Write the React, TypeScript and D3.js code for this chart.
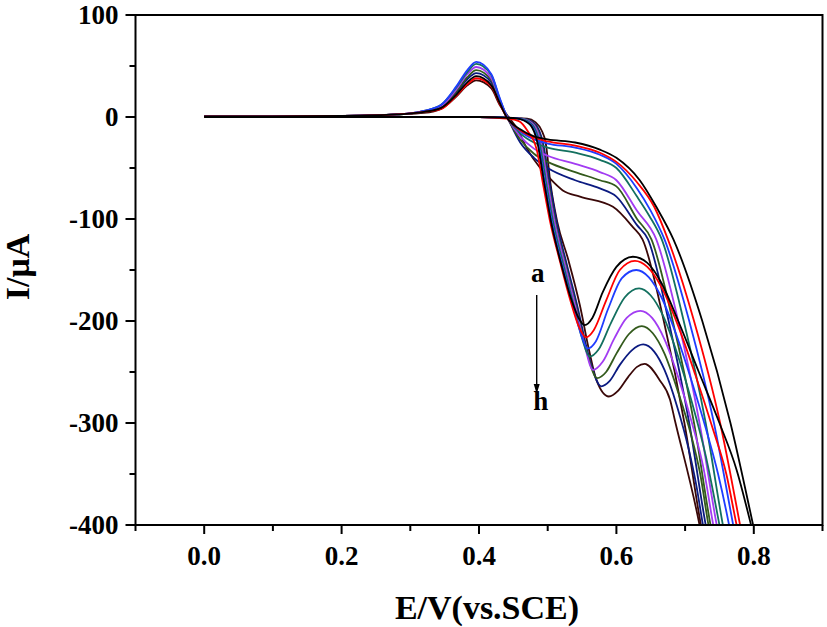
import { useEffect, useRef } from "react";
import * as d3 from "d3";

// curve labels a..h and their colours
const curveLabels = ["a", "b", "c", "d", "e", "f", "g", "h"];
const curveColors = ["#000000", "#ff0000", "#1f3dff", "#13705f", "#a23cf2", "#335a1c", "#0b1a80", "#3a0808"];

// forward scan (E / V, I / uA), potential increasing
const fwdA = [[0, 0], [0.2, 0], [0.4, 0], [0.45, -1], [0.46, -2], [0.475, -8], [0.485, -25], [0.495, -65], [0.505, -103], [0.52, -145], [0.535, -180], [0.545, -197], [0.554, -204], [0.565, -197], [0.58, -172], [0.6, -147], [0.624, -137], [0.645, -143], [0.665, -162], [0.69, -200], [0.72, -250], [0.75, -300], [0.775, -346], [0.796, -400], [0.805, -425]];
const fwdB = [[0, 0], [0.2, 0], [0.4, 0], [0.44, -1.5], [0.458, -4], [0.471, -14], [0.484, -32], [0.493, -65], [0.503, -101], [0.518, -142], [0.533, -180], [0.545, -205], [0.556, -216], [0.567, -209], [0.585, -180], [0.605, -150], [0.627, -141], [0.645, -147], [0.665, -166], [0.69, -205], [0.715, -253], [0.74, -305], [0.76, -350], [0.775, -400], [0.783, -425]];
const fwdC = [[0, 0], [0.2, 0], [0.4, 0], [0.45, -1], [0.46, -2], [0.476, -8], [0.486, -25], [0.496, -65], [0.506, -103], [0.521, -145], [0.536, -183], [0.548, -212], [0.558, -227], [0.57, -220], [0.588, -188], [0.608, -158], [0.629, -150], [0.647, -157], [0.665, -176], [0.688, -215], [0.71, -260], [0.73, -305], [0.748, -350], [0.764, -400], [0.771, -425]];
const fwdD = [[0, 0], [0.2, 0], [0.4, 0], [0.45, -1], [0.463, -2], [0.478, -8], [0.488, -25], [0.498, -65], [0.508, -103], [0.523, -145], [0.538, -185], [0.55, -217], [0.561, -235], [0.574, -228], [0.592, -202], [0.612, -177], [0.633, -168], [0.65, -175], [0.668, -195], [0.69, -235], [0.71, -280], [0.73, -332], [0.75, -400], [0.757, -425]];
const fwdE = [[0, 0], [0.2, 0], [0.4, 0], [0.45, -1], [0.465, -2], [0.48, -8], [0.49, -25], [0.5, -65], [0.51, -103], [0.525, -145], [0.54, -185], [0.553, -222], [0.566, -248], [0.58, -240], [0.597, -217], [0.615, -197], [0.635, -190], [0.652, -197], [0.67, -218], [0.69, -255], [0.71, -300], [0.727, -345], [0.741, -400], [0.748, -425]];
const fwdF = [[0, 0], [0.2, 0], [0.4, 0], [0.45, -1], [0.466, -2], [0.481, -8], [0.491, -25], [0.501, -65], [0.511, -103], [0.526, -145], [0.541, -185], [0.556, -228], [0.572, -256], [0.585, -250], [0.6, -232], [0.618, -213], [0.637, -205], [0.653, -212], [0.67, -232], [0.69, -270], [0.708, -310], [0.722, -350], [0.734, -400], [0.741, -425]];
const fwdG = [[0, 0], [0.2, 0], [0.4, 0], [0.45, -1], [0.468, -2], [0.483, -8], [0.493, -25], [0.503, -65], [0.513, -103], [0.528, -145], [0.543, -185], [0.56, -235], [0.578, -264], [0.59, -259], [0.605, -243], [0.622, -229], [0.639, -223], [0.655, -230], [0.67, -248], [0.688, -283], [0.705, -325], [0.716, -360], [0.726, -400], [0.733, -425]];
const fwdH = [[0, 0], [0.2, 0], [0.4, 0], [0.47, -1.5], [0.482, -5], [0.491, -13], [0.497, -25], [0.504, -65], [0.514, -103], [0.53, -140], [0.547, -185], [0.56, -228], [0.571, -258], [0.589, -274], [0.603, -268], [0.617, -255], [0.63, -245], [0.641, -242], [0.663, -258], [0.678, -277], [0.685, -297], [0.721, -400], [0.728, -425]];

// reverse scan, listed with potential increasing
const revA = [[0, 0.5], [0.1, 0.5], [0.2, 1], [0.28, 2.5], [0.32, 5], [0.345, 9], [0.367, 22], [0.383, 34], [0.396, 40], [0.418, 31], [0.43, 14], [0.44, 0], [0.46, -12], [0.48, -19], [0.5, -22], [0.54, -25], [0.576, -32], [0.6, -40], [0.634, -62], [0.658, -88], [0.683, -120], [0.725, -200], [0.766, -300], [0.799, -400], [0.807, -425]];
const revB = [[0, 0.5], [0.1, 0.5], [0.2, 1], [0.28, 2.5], [0.32, 5], [0.345, 8], [0.367, 21], [0.383, 32], [0.396, 38], [0.418, 30], [0.43, 13], [0.44, 0], [0.46, -13], [0.48, -20], [0.5, -24], [0.54, -28], [0.576, -35], [0.6, -44], [0.63, -64], [0.655, -88], [0.675, -120], [0.713, -200], [0.751, -300], [0.78, -400], [0.787, -425]];
const revC = [[0, 0.5], [0.1, 0.5], [0.2, 1], [0.28, 2.5], [0.32, 6], [0.345, 12], [0.367, 30], [0.383, 46], [0.396, 54], [0.418, 42], [0.43, 19], [0.441, 0], [0.46, -14], [0.48, -22], [0.5, -26], [0.54, -30], [0.576, -37], [0.6, -46], [0.63, -70], [0.65, -92], [0.67, -120], [0.706, -200], [0.742, -300], [0.77, -400], [0.777, -425]];
const revD = [[0, 0.5], [0.1, 0.5], [0.2, 1], [0.28, 2.5], [0.32, 6], [0.345, 12], [0.367, 29], [0.383, 44], [0.396, 52], [0.418, 41], [0.43, 18], [0.441, 0], [0.46, -16], [0.48, -25], [0.5, -30], [0.54, -35], [0.576, -42], [0.6, -50], [0.63, -78], [0.648, -97], [0.666, -120], [0.698, -200], [0.73, -300], [0.755, -400], [0.762, -425]];
const revE = [[0, 0.5], [0.1, 0.5], [0.2, 1], [0.28, 2.5], [0.32, 6], [0.345, 11], [0.367, 27], [0.383, 42], [0.396, 49], [0.418, 38], [0.43, 17], [0.441, 0], [0.46, -19], [0.48, -31], [0.5, -38], [0.54, -46], [0.576, -54], [0.6, -62], [0.63, -92], [0.658, -120], [0.69, -200], [0.721, -300], [0.746, -400], [0.753, -425]];
const revF = [[0, 0.5], [0.1, 0.5], [0.2, 1], [0.28, 2.5], [0.32, 5], [0.345, 10], [0.367, 25], [0.383, 39], [0.396, 46], [0.418, 36], [0.43, 16], [0.441, 0], [0.46, -22], [0.48, -36], [0.5, -44], [0.54, -54], [0.576, -62], [0.6, -68], [0.63, -100], [0.651, -120], [0.682, -200], [0.713, -300], [0.737, -400], [0.744, -425]];
const revG = [[0, 0.5], [0.1, 0.5], [0.2, 1], [0.28, 2.5], [0.32, 5], [0.345, 10], [0.367, 24], [0.383, 37], [0.396, 43], [0.418, 34], [0.43, 15], [0.441, 0], [0.46, -25], [0.48, -40], [0.5, -50], [0.54, -62], [0.576, -70], [0.6, -78], [0.63, -106], [0.646, -120], [0.676, -200], [0.706, -300], [0.73, -400], [0.737, -425]];
const revH = [[0, 0.5], [0.1, 0.5], [0.2, 1], [0.28, 2.5], [0.32, 4], [0.345, 8], [0.367, 20], [0.383, 31], [0.396, 36], [0.418, 28], [0.43, 12], [0.443, 0], [0.456, -12], [0.469, -30], [0.488, -49], [0.5, -58], [0.522, -72], [0.547, -78], [0.595, -88], [0.624, -108], [0.638, -120], [0.669, -200], [0.699, -300], [0.723, -400], [0.73, -425]];

const forwardScans = [fwdA, fwdB, fwdC, fwdD, fwdE, fwdF, fwdG, fwdH];
const reverseScans = [revA, revB, revC, revD, revE, revF, revG, revH];

const yTicks = [100, 0, -100, -200, -300, -400];
const xTicks = [0.0, 0.2, 0.4, 0.6, 0.8];

export default function App() {
  const ref = useRef<SVGSVGElement>(null);

  useEffect(() => {
    const svg = d3.select(ref.current);
    svg.selectAll("*").remove();

    const left = 135.5, right = 822.5, top = 15, bottom = 525;
    const x = d3.scaleLinear().domain([-0.1, 0.9]).range([left, right]);
    const y = d3.scaleLinear().domain([-400, 100]).range([bottom, top]);
    const font = "'Liberation Serif', 'Times New Roman', serif";

    svg.append("defs").append("clipPath").attr("id", "plot-clip")
      .append("rect").attr("x", left).attr("y", top)
      .attr("width", right - left).attr("height", bottom - top);

    const line = d3.line<number[]>()
      .x((d) => x(d[0]))
      .y((d) => y(d[1]))
      .curve(d3.curveMonotoneX);

    const g = svg.append("g").attr("clip-path", "url(#plot-clip)");
    for (let i = curveLabels.length - 1; i >= 0; i--) {
      [forwardScans[i], reverseScans[i]].forEach((pts) => {
        g.append("path")
          .attr("d", line(pts))
          .attr("fill", "none")
          .attr("stroke", curveColors[i])
          .attr("stroke-width", 1.8);
      });
    }

    // frame
    svg.append("rect")
      .attr("x", left).attr("y", top)
      .attr("width", right - left).attr("height", bottom - top)
      .attr("fill", "none").attr("stroke", "#000").attr("stroke-width", 2);

    // y axis
    const yAxis = svg.append("g");
    d3.range(-400, 101, 50).forEach((v) => {
      const major = v % 100 === 0;
      yAxis.append("line")
        .attr("x1", left).attr("x2", left - (major ? 10 : 6))
        .attr("y1", y(v)).attr("y2", y(v))
        .attr("stroke", "#000").attr("stroke-width", 2);
    });
    yTicks.forEach((v) => {
      yAxis.append("text")
        .attr("x", left - 17).attr("y", y(v))
        .attr("dy", "0.35em")
        .attr("text-anchor", "end")
        .attr("font-family", font).attr("font-weight", "bold").attr("font-size", 27)
        .text(v);
    });

    // x axis
    const xAxis = svg.append("g");
    d3.range(-1, 10).forEach((k) => {
      const v = k / 10;
      const major = k % 2 === 0;
      xAxis.append("line")
        .attr("x1", x(v)).attr("x2", x(v))
        .attr("y1", bottom).attr("y2", bottom + (major ? 9 : 6))
        .attr("stroke", "#000").attr("stroke-width", 2);
    });
    xTicks.forEach((v) => {
      xAxis.append("text")
        .attr("x", x(v)).attr("y", 565)
        .attr("text-anchor", "middle")
        .attr("font-family", font).attr("font-weight", "bold").attr("font-size", 27)
        .text(d3.format(".1f")(v));
    });

    svg.append("text")
      .attr("x", 487).attr("y", 619)
      .attr("text-anchor", "middle")
      .attr("font-family", font).attr("font-weight", "bold").attr("font-size", 34)
      .text("E/V(vs.SCE)");

    svg.append("text")
      .attr("transform", `translate(29, 267) rotate(-90)`)
      .attr("text-anchor", "middle")
      .attr("font-family", font).attr("font-weight", "bold").attr("font-size", 34)
      .text("I/μA");

    // a -> h arrow
    const ax = x(0.484);
    svg.append("text")
      .attr("x", ax + 1).attr("y", 282)
      .attr("text-anchor", "middle")
      .attr("font-family", font).attr("font-weight", "bold").attr("font-size", 27)
      .text(curveLabels[0]);
    svg.append("line")
      .attr("x1", ax).attr("x2", ax).attr("y1", 295).attr("y2", 386)
      .attr("stroke", "#000").attr("stroke-width", 1.4);
    svg.append("path")
      .attr("d", `M${ax - 3},384 L${ax + 3},384 L${ax},394 Z`)
      .attr("fill", "#000");
    svg.append("text")
      .attr("x", ax + 4).attr("y", 410)
      .attr("text-anchor", "middle")
      .attr("font-family", font).attr("font-weight", "bold").attr("font-size", 27)
      .text(curveLabels[7]);
  }, []);

  return (
    <svg
      ref={ref}
      width={827}
      height={627}
      style={{ position: "absolute", left: 0, top: 0, background: "#fff" }}
    />
  );
}
